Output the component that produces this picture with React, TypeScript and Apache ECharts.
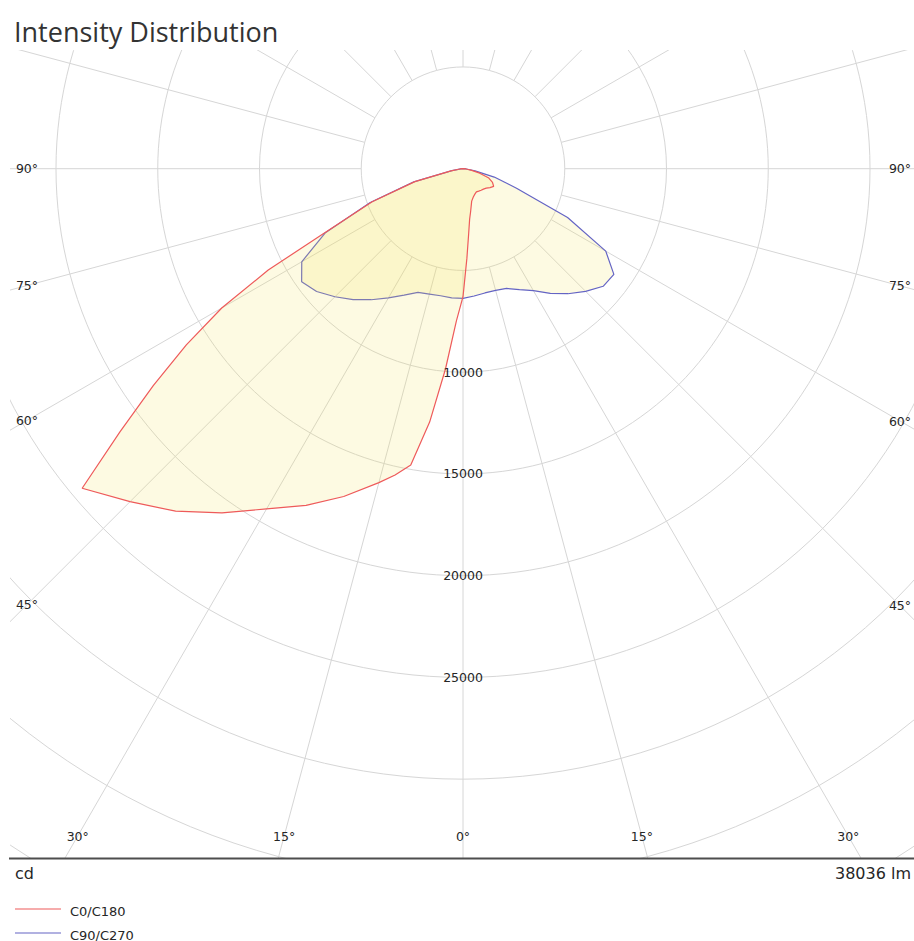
import React, { useEffect, useRef } from "react";
import * as echarts from "echarts";

const TITLE = "Intensity Distribution";
const UNIT_LEFT = "cd";
const UNIT_RIGHT = "38036 lm";
const SERIES_NAMES = ["C0/C180", "C90/C270"];

// gamma angle: 0 = straight down, positive = left half (C180 / C270), negative = right half (C0 / C90)
const RED_ANGLES = [-90, -85, -80, -75, -70, -65, -60, -55, -50, -45, -40, -35, -30, -25, -20, -15, -10, -7.5, -5, -2.5, 0, 2.5, 5, 7.5, 10, 12.5, 15, 20, 25, 30, 35, 40, 45, 50, 52.5, 55, 57.5, 60, 62.5, 65, 70, 75, 80, 85, 90];
const RED_VALUES = [0, 150, 400, 850, 1350, 1600, 1740, 1620, 1490, 1420, 1386, 1348, 1316, 1380, 1480, 1650, 2150, 2500, 3200, 4400, 6290, 7500, 9880, 12560, 14780, 15420, 15970, 17140, 18250, 19300, 20650, 21970, 23140, 24430, 21250, 18570, 16120, 13690, 10790, 7640, 4750, 2450, 600, 150, 0];

const BLUE_ANGLES = [-90, -85, -80, -75, -70, -65, -60, -55, -50, -45, -40, -35, -30, -25, -20, -15, -10, -5, 0, 5, 10, 15, 20, 25, 30, 35, 40, 45, 50, 55, 60, 65, 70, 75, 80, 85, 90];
const BLUE_VALUES = [0, 150, 600, 1590, 2800, 5670, 8100, 9050, 8990, 8520, 8020, 7480, 6920, 6560, 6260, 6190, 6200, 6280, 6370, 6370, 6340, 6380, 6470, 6850, 7330, 7860, 8400, 8900, 9390, 9680, 9150, 7480, 4850, 2500, 550, 100, 0];

const RADIAL_LABELS = [10000, 15000, 20000, 25000];
const ANGLE_TICKS = [0, 15, 30, 45, 60, 75, 90];

// layout constants
const W = 914;
const H = 941;
const CX = 463;
const CY = 168.7;
const S = 0.02035; // px per cd
const RMAX = 45000;
const INNER = 5000;
const PLOT_LEFT = 10;
const PLOT_TOP = 50;
const PLOT_BOTTOM = 858;
const LABEL_LEFT_X = 27;
const LABEL_RIGHT_X = 900;
const LABEL_BOTTOM_Y = 836;

const RED = "#ee5a5a";
const BLUE = "#6464c4";
const GRID = "#d6d6d6";
const FILL = "rgba(245,225,90,0.25)";
const TEXT = "#262626";
const FONT = "'DejaVu Sans', Verdana, sans-serif";

export default function App() {
  const ref = useRef<HTMLDivElement>(null);

  useEffect(() => {
    document.body.style.margin = "0";
    if (!ref.current) return;
    const chart = echarts.init(ref.current, null, { renderer: "svg" });

    const texts: any[] = [];
    const mkText = (text: string, x: number, y: number, opts: any = {}) => ({
      type: "text",
      x,
      y,
      z: 101,
      silent: true,
      style: {
        text,
        fill: TEXT,
        fontSize: 12.5,
        fontFamily: FONT,
        align: "center",
        verticalAlign: "middle",
        ...opts,
      },
    });

    // angle labels where spokes meet the label frame
    for (const a of ANGLE_TICKS) {
      const rad = (a * Math.PI) / 180;
      const sx = Math.sin(rad);
      const cy = Math.cos(rad);
      const tSide = sx > 1e-6 ? (CX - LABEL_LEFT_X) / sx : Infinity;
      const tBottom = cy > 1e-6 ? (LABEL_BOTTOM_Y - CY) / cy : Infinity;
      const label = `${a}°`;
      if (tSide < tBottom) {
        texts.push(mkText(label, LABEL_LEFT_X, CY + tSide * cy));
        const tR = (LABEL_RIGHT_X - CX) / sx;
        texts.push(mkText(label, LABEL_RIGHT_X, CY + tR * cy));
      } else {
        texts.push(mkText(label, CX - tBottom * sx, LABEL_BOTTOM_Y));
        if (a !== 0) texts.push(mkText(label, CX + tBottom * sx, LABEL_BOTTOM_Y));
      }
    }
    // radial labels
    for (const v of RADIAL_LABELS) {
      texts.push(mkText(String(v), CX, CY + v * S));
    }

    const graphics: any[] = [
      // clipping covers
      { type: "rect", z: 100, silent: true, shape: { x: 0, y: 0, width: W, height: PLOT_TOP }, style: { fill: "#fff" } },
      { type: "rect", z: 100, silent: true, shape: { x: 0, y: 0, width: PLOT_LEFT, height: H }, style: { fill: "#fff" } },
      { type: "rect", z: 100, silent: true, shape: { x: 0, y: PLOT_BOTTOM, width: W, height: H - PLOT_BOTTOM }, style: { fill: "#fff" } },
      {
        type: "line", z: 101, silent: true,
        shape: { x1: PLOT_LEFT - 1, y1: PLOT_BOTTOM + 0.5, x2: W, y2: PLOT_BOTTOM + 0.5 },
        style: { stroke: "#4d4d4d", lineWidth: 2 },
      },
      mkText(TITLE, 14, 31, { fontSize: 27, fontFamily: "'Open Sans', sans-serif", align: "left", fill: "#333333" }),
      mkText(UNIT_LEFT, 15, 873, { fontSize: 16, align: "left" }),
      mkText(UNIT_RIGHT, 911, 873, { fontSize: 16, align: "right" }),
      // legend
      { type: "line", z: 101, silent: true, shape: { x1: 15, y1: 909, x2: 61, y2: 909 }, style: { stroke: RED, lineWidth: 1.2 } },
      mkText(SERIES_NAMES[0], 70, 911, { fontSize: 13, align: "left" }),
      { type: "line", z: 101, silent: true, shape: { x1: 15, y1: 933, x2: 61, y2: 933 }, style: { stroke: BLUE, lineWidth: 1.2 } },
      mkText(SERIES_NAMES[1], 70, 935, { fontSize: 13, align: "left" }),
      ...texts,
    ];

    const axisOff = {
      axisLine: { show: false },
      axisTick: { show: false },
      axisLabel: { show: false },
    };

    const option: any = {
      animation: false,
      backgroundColor: "#ffffff",
      polar: [
        { center: [CX, CY], radius: [INNER * S, RMAX * S] },
        { center: [CX, CY], radius: [0, RMAX * S] },
      ],
      angleAxis: [
        {
          polarIndex: 0, type: "value", min: -180, max: 180, interval: 15,
          startAngle: 90, clockwise: true, ...axisOff,
          splitLine: { show: true, lineStyle: { color: GRID, width: 1 } },
        },
        {
          polarIndex: 1, type: "value", min: -180, max: 180, interval: 15,
          startAngle: 90, clockwise: true, ...axisOff,
          splitLine: { show: false },
        },
      ],
      radiusAxis: [
        { polarIndex: 0, type: "value", min: 0, max: RMAX, ...axisOff, splitLine: { show: false } },
        {
          polarIndex: 1, type: "value", min: 0, max: RMAX, interval: 5000, ...axisOff,
          splitLine: { show: true, lineStyle: { color: GRID, width: 1 } },
        },
      ],
      series: [
        {
          name: SERIES_NAMES[0], type: "line", coordinateSystem: "polar", polarIndex: 1,
          data: RED_ANGLES.map((a, i) => [RED_VALUES[i], a]),
          symbol: "none", smooth: false, color: RED, z: 3,
          lineStyle: { color: RED, width: 1.2 },
          areaStyle: { color: FILL },
        },
        {
          name: SERIES_NAMES[1], type: "line", coordinateSystem: "polar", polarIndex: 1,
          data: BLUE_ANGLES.map((a, i) => [BLUE_VALUES[i], a]),
          symbol: "none", smooth: false, color: BLUE, z: 2,
          lineStyle: { color: BLUE, width: 1.2 },
          areaStyle: { color: FILL },
        },
      ],
      graphic: { elements: graphics },
    };

    chart.setOption(option);
    return () => chart.dispose();
  }, []);

  return <div ref={ref} style={{ width: W, height: H }} />;
}
